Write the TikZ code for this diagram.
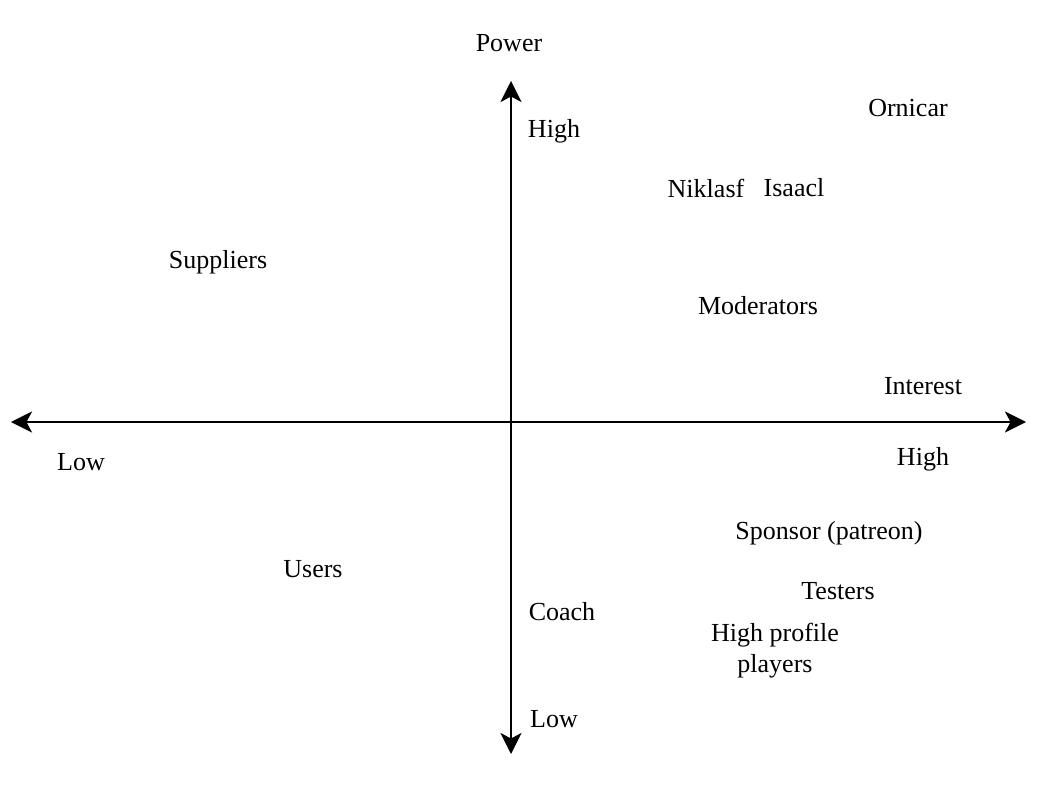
\documentclass[tikz,border=0pt]{standalone}
\usepackage{fontspec}
\setmainfont{Liberation Serif}
\usetikzlibrary{arrows.meta}

\tikzset{
  axis/.style={line width=1.4pt,{Stealth[length=15pt,width=15pt,inset=4pt]}-{Stealth[length=15pt,width=15pt,inset=4pt]}},
  lbl/.style={font=\fontsize{18.5}{22}\selectfont,inner sep=0pt,align=center}
}

\begin{document}
\begin{tikzpicture}[x=0.025cm,y=-0.025cm]
\useasboundingbox (0,0) rectangle (1060,809);

% === Axes ===
\coordinate (west) at (11,422);
\coordinate (east) at (1026,422);
\coordinate (north) at (511,81);
\coordinate (south) at (511,754);
\draw[axis] (west) -- (east);
\draw[axis] (south) -- (north);

% === Axis labels ===
\node[lbl] (power) at (509,43) {Power};
\node[lbl] (powhigh) at (554,131) {High};
\node[lbl] (powlow) at (554,719) {Low};
\node[lbl] (interest) at (923,386) {Interest};
\node[lbl] (inthigh) at (923,459) {High};
\node[lbl] (intlow) at (81,462) {Low};

% === Stakeholders ===
\node[lbl] (ornicar) at (908,108) {Ornicar};
\node[lbl] (niklasf) at (706,188) {Niklasf};
\node[lbl] (isaacl) at (794,188) {Isaacl};
\node[lbl] (suppliers) at (218,262) {Suppliers};
\node[lbl] (moderators) at (758,306) {Moderators};
\node[lbl] (sponsor) at (829,533) {Sponsor (patreon)};
\node[lbl] (users) at (313,569) {Users};
\node[lbl] (testers) at (838,591) {Testers};
\node[lbl] (coach) at (562,612) {Coach};
\node[lbl] (players) at (775,651) {High profile\\players};
\end{tikzpicture}
\end{document}
